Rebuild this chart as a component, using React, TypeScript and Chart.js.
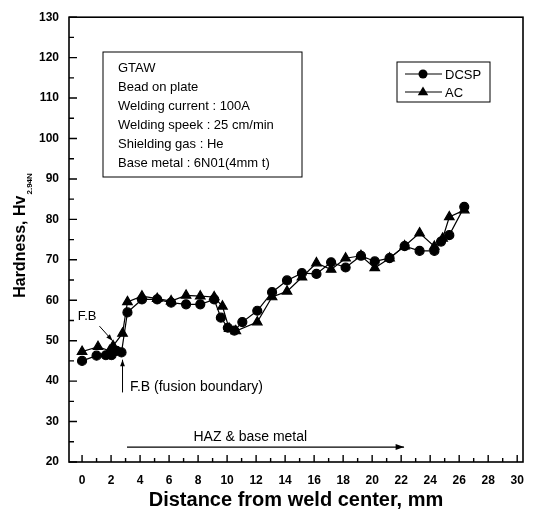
import { useEffect, useRef } from "react";
import { Chart, registerables } from "chart.js";

Chart.register(...registerables);

// ---- data ----
const DCSP_X = [0, 1.0, 1.64, 2.03, 2.38, 2.72, 3.13, 4.13, 5.18, 6.14, 7.17, 8.15, 9.11, 9.57, 10.05, 10.5, 11.05, 12.08, 13.1, 14.13, 15.16, 16.16, 17.17, 18.17, 19.23, 20.18, 21.2, 22.24, 23.27, 24.29, 24.75, 25.32, 26.35];
const DCSP_Y = [45.0, 46.3, 46.4, 46.4, 47.5, 47.1, 57.0, 60.2, 60.2, 59.4, 59.0, 59.0, 60.2, 55.7, 53.2, 52.5, 54.6, 57.4, 62.0, 64.9, 66.7, 66.5, 69.4, 68.1, 71.0, 69.6, 70.4, 73.4, 72.2, 72.2, 74.5, 76.1, 83.1];
const AC_X = [0, 1.1, 1.9, 2.14, 2.79, 3.13, 4.13, 5.18, 6.14, 7.17, 8.15, 9.11, 9.68, 10.14, 10.6, 12.08, 13.1, 14.13, 15.16, 16.16, 17.17, 18.17, 19.23, 20.18, 21.2, 22.24, 23.27, 24.29, 24.86, 25.32, 26.35];
const AC_Y = [47.3, 48.5, 47.5, 48.7, 51.8, 59.6, 61.0, 60.4, 59.8, 61.2, 61.0, 60.8, 58.5, 53.0, 52.4, 54.6, 60.8, 62.2, 65.7, 69.2, 67.6, 70.4, 71.0, 68.0, 70.4, 73.4, 76.6, 73.3, 75.3, 80.6, 82.3];

const SERIES_NAMES = ["DCSP", "AC"];
const X_TICKS = [0, 2, 4, 6, 8, 10, 12, 14, 16, 18, 20, 22, 24, 26, 28, 30];
const X_MINOR = [1, 3, 5, 7, 9, 11, 13, 15, 17, 19, 21, 23, 25, 27, 29];
const Y_TICKS = [20, 30, 40, 50, 60, 70, 80, 90, 100, 110, 120, 130];
const Y_MINOR = [25, 35, 45, 55, 65, 75, 85, 95, 105, 115, 125];

const INFO_LINES = [
  "GTAW",
  "Bead on plate",
  "Welding current : 100A",
  "Welding speek : 25 cm/min",
  "Shielding gas : He",
  "Base metal : 6N01(4mm t)",
];
const X_TITLE = "Distance from weld center, mm";
const Y_TITLE = "Hardness, Hv";
const Y_TITLE_SUB = "2.94N";
const FB_LABEL = "F.B";
const FB_FULL_LABEL = "F.B (fusion boundary)";
const HAZ_LABEL = "HAZ & base metal";

const FONT = "'Liberation Sans', Arial, Helvetica, sans-serif";

function drawCircle(ctx: CanvasRenderingContext2D, x: number, y: number, r: number) {
  ctx.beginPath();
  ctx.arc(x, y, r, 0, Math.PI * 2);
  ctx.fill();
}
function drawTriangle(ctx: CanvasRenderingContext2D, x: number, y: number, r: number) {
  ctx.beginPath();
  ctx.moveTo(x, y - r);
  ctx.lineTo(x + r * 0.95, y + r * 0.6);
  ctx.lineTo(x - r * 0.95, y + r * 0.6);
  ctx.closePath();
  ctx.fill();
}
function arrow(ctx: CanvasRenderingContext2D, x1: number, y1: number, x2: number, y2: number, head: number) {
  ctx.beginPath();
  ctx.moveTo(x1, y1);
  ctx.lineTo(x2, y2);
  ctx.stroke();
  const ang = Math.atan2(y2 - y1, x2 - x1);
  ctx.beginPath();
  ctx.moveTo(x2, y2);
  ctx.lineTo(x2 - head * Math.cos(ang - 0.35), y2 - head * Math.sin(ang - 0.35));
  ctx.lineTo(x2 - head * Math.cos(ang + 0.35), y2 - head * Math.sin(ang + 0.35));
  ctx.closePath();
  ctx.fill();
}

const decorPlugin = {
  id: "decor",
  afterDraw(chart: any) {
    const { ctx, chartArea: a, scales } = chart;
    const xs = scales.x;
    const ys = scales.y;
    ctx.save();
    ctx.strokeStyle = "#000";
    ctx.fillStyle = "#000";
    // frame
    ctx.lineWidth = 1.6;
    ctx.strokeRect(a.left, a.top, a.right - a.left, a.bottom - a.top);
    // inward ticks
    ctx.lineWidth = 1.4;
    ctx.beginPath();
    X_TICKS.forEach((v) => {
      const px = xs.getPixelForValue(v);
      ctx.moveTo(px, a.bottom);
      ctx.lineTo(px, a.bottom - 7);
    });
    X_MINOR.forEach((v) => {
      const px = xs.getPixelForValue(v);
      ctx.moveTo(px, a.bottom);
      ctx.lineTo(px, a.bottom - 4);
    });
    Y_TICKS.forEach((v) => {
      const py = ys.getPixelForValue(v);
      ctx.moveTo(a.left, py);
      ctx.lineTo(a.left + 8, py);
    });
    Y_MINOR.forEach((v) => {
      const py = ys.getPixelForValue(v);
      ctx.moveTo(a.left, py);
      ctx.lineTo(a.left + 5, py);
    });
    ctx.stroke();

    // y title with subscript
    ctx.save();
    const cy = 236;
    ctx.translate(21, cy);
    ctx.rotate(-Math.PI / 2);
    ctx.font = `bold 16px ${FONT}`;
    const w1 = ctx.measureText(Y_TITLE).width;
    ctx.font = `bold 8px ${FONT}`;
    const w2 = ctx.measureText(Y_TITLE_SUB).width;
    const start = -(w1 + w2) / 2;
    ctx.textBaseline = "middle";
    ctx.textAlign = "left";
    ctx.font = `bold 16px ${FONT}`;
    ctx.fillText(Y_TITLE, start, 0);
    ctx.font = `bold 8px ${FONT}`;
    ctx.fillText(Y_TITLE_SUB, start + w1 + 1, 9);
    ctx.restore();

    // info box
    ctx.lineWidth = 1;
    ctx.strokeRect(103, 52, 199, 125);
    ctx.font = `13px ${FONT}`;
    ctx.textAlign = "left";
    ctx.textBaseline = "middle";
    INFO_LINES.forEach((t, i) => {
      ctx.fillText(t, 118, 68 + i * 19);
    });

    // legend
    ctx.strokeRect(397, 62, 93, 40);
    ctx.lineWidth = 1.2;
    const ly = [74, 92];
    ly.forEach((yy, i) => {
      ctx.beginPath();
      ctx.moveTo(405, yy);
      ctx.lineTo(442, yy);
      ctx.stroke();
      if (i === 0) drawCircle(ctx, 423, yy, 4.5);
      else drawTriangle(ctx, 423, yy, 5.5);
      ctx.font = `13px ${FONT}`;
      ctx.fillText(SERIES_NAMES[i], 445, yy + 1);
    });

    // F.B annotations
    ctx.font = `13px ${FONT}`;
    ctx.textBaseline = "middle";
    ctx.fillText(FB_LABEL, xs.getPixelForValue(-0.3), ys.getPixelForValue(56.1));
    ctx.lineWidth = 1;
    arrow(ctx, xs.getPixelForValue(1.2), ys.getPixelForValue(53.6), xs.getPixelForValue(2.1), ys.getPixelForValue(50.0), 7);
    arrow(ctx, xs.getPixelForValue(2.79), ys.getPixelForValue(37.2), xs.getPixelForValue(2.79), ys.getPixelForValue(45.3), 7);
    ctx.font = `14px ${FONT}`;
    ctx.fillText(FB_FULL_LABEL, xs.getPixelForValue(3.3), ys.getPixelForValue(38.4));

    // HAZ arrow
    ctx.textAlign = "center";
    ctx.font = `14px ${FONT}`;
    ctx.fillText(HAZ_LABEL, xs.getPixelForValue(11.6), ys.getPixelForValue(26.2));
    ctx.lineWidth = 1.3;
    arrow(ctx, xs.getPixelForValue(3.1), ys.getPixelForValue(23.7), xs.getPixelForValue(22.2), ys.getPixelForValue(23.7), 9);

    ctx.restore();
  },
};

export default function App() {
  const ref = useRef<HTMLCanvasElement | null>(null);
  useEffect(() => {
    if (!ref.current) return;
    const chart = new Chart(ref.current, {
      type: "scatter",
      data: {
        datasets: [
          {
            label: SERIES_NAMES[0],
            data: DCSP_X.map((x, i) => ({ x, y: DCSP_Y[i] })),
            showLine: true,
            borderColor: "#000",
            backgroundColor: "#000",
            borderWidth: 1.2,
            pointStyle: "circle",
            pointRadius: 4.5,
          },
          {
            label: SERIES_NAMES[1],
            data: AC_X.map((x, i) => ({ x, y: AC_Y[i] })),
            showLine: true,
            borderColor: "#000",
            backgroundColor: "#000",
            borderWidth: 1.2,
            pointStyle: "triangle",
            pointRadius: 5.5,
          },
        ],
      },
      options: {
        responsive: false,
        animation: false,
        layout: { padding: { top: 14, right: 10, left: 0, bottom: 0 } },
        plugins: { legend: { display: false }, tooltip: { enabled: false } },
        scales: {
          x: {
            type: "linear",
            min: -0.9,
            max: 30.4,
            grid: { display: false, drawTicks: false },
            border: { display: false },
            afterBuildTicks: (s: any) => {
              s.ticks = X_TICKS.map((v) => ({ value: v }));
            },
            afterFit: (s: any) => {
              s.height = 55;
            },
            ticks: {
              color: "#000",
              font: { family: FONT, size: 12, weight: "bold" },
              padding: 11,
              autoSkip: false,
              maxRotation: 0,
              callback: (v: any) => String(v),
            },
            title: {
              display: true,
              text: X_TITLE,
              color: "#000",
              font: { family: FONT, size: 20, weight: "bold" },
              padding: { top: 0, bottom: 5 },
            },
          },
          y: {
            min: 20,
            max: 130,
            grid: { display: false, drawTicks: false },
            border: { display: false },
            afterBuildTicks: (s: any) => {
              s.ticks = Y_TICKS.map((v) => ({ value: v }));
            },
            afterFit: (s: any) => {
              s.width = 69;
            },
            ticks: {
              color: "#000",
              font: { family: FONT, size: 12, weight: "bold" },
              padding: 10,
              autoSkip: false,
              callback: (v: any) => String(v),
            },
          },
        },
      },
      plugins: [decorPlugin],
    });
    return () => chart.destroy();
  }, []);
  return (
    <div style={{ position: "absolute", left: 0, top: 0, width: 535, height: 517, background: "#fff" }}>
      <canvas ref={ref} width={535} height={517} style={{ display: "block" }} />
    </div>
  );
}
